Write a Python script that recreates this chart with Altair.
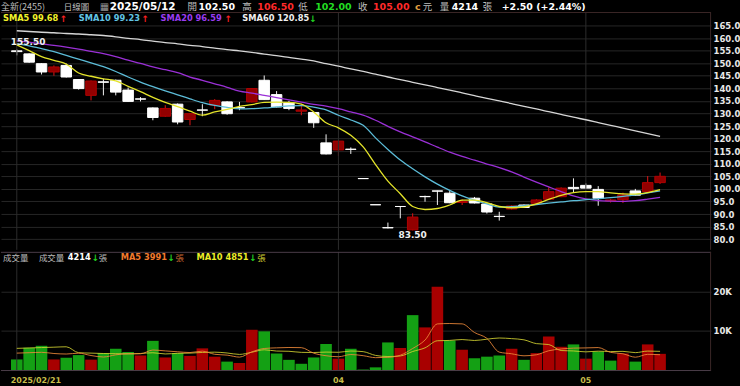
import altair as alt
import pandas as pd

# ---------------- data ----------------
opens = [154.9, 153.7, 149.8, 146.5, 149.1, 143.5, 137.2, 142.6, 143.2, 139.3,
         135.8, 132.2, 128.9, 133.7, 127.6, 131.4, 133.3, 134.6, 132.3, 134.6,
         143.2, 137.5, 134.2, 130.9, 130.4, 118.3, 115.5, 115.8, 104.1, 93.7,
         84.6, 93.0, 83.7, 97.0, 99.2, 98.3, 94.6, 96.3, 94.0, 89.1,
         92.0, 93.6, 94.3, 95.9, 96.9, 100.6, 101.4, 99.8, 95.2, 95.7,
         99.2, 98.9, 102.5]
highs = [155.5, 153.9, 150.0, 149.1, 149.8, 143.7, 143.1, 143.8, 143.5, 140.3,
         136.5, 132.4, 133.3, 134.0, 130.1, 133.7, 135.7, 134.9, 134.6, 140.0,
         145.1, 138.9, 135.0, 133.9, 130.6, 121.7, 119.2, 116.5, 104.1, 93.7,
         86.6, 93.0, 90.3, 97.3, 99.3, 99.5, 95.8, 96.8, 94.2, 90.9,
         93.5, 93.8, 95.9, 100.6, 100.6, 104.2, 102.2, 101.1, 96.0, 98.5,
         100.0, 105.1, 106.5]
lows = [153.1, 150.2, 145.5, 145.0, 144.3, 139.5, 135.2, 137.2, 137.2, 134.6,
        134.8, 127.3, 128.7, 125.7, 125.3, 128.9, 131.7, 129.5, 131.3, 134.4,
        135.4, 132.4, 131.3, 129.3, 124.3, 113.7, 113.1, 113.9, 104.1, 93.7,
        84.3, 88.3, 83.5, 94.9, 93.6, 94.3, 93.6, 94.2, 90.2, 87.4,
        91.8, 92.4, 94.1, 95.7, 96.7, 98.5, 100.1, 93.3, 94.6, 94.4,
        97.3, 98.7, 102.0]
closes = [154.6, 150.4, 146.5, 148.5, 144.5, 139.9, 142.9, 142.4, 138.5, 134.8,
          135.7, 128.4, 132.0, 126.6, 129.9, 131.3, 135.2, 129.9, 132.2, 139.9,
          135.5, 132.6, 132.0, 131.4, 126.3, 113.9, 119.0, 115.7, 104.1, 93.7,
          84.5, 93.0, 88.8, 96.9, 99.1, 94.5, 95.0, 94.4, 90.8, 89.0,
          93.2, 92.6, 95.6, 98.9, 100.3, 100.1, 100.3, 96.3, 95.6, 97.6,
          97.5, 102.5, 105.0]
sma5 = [157.3, 155.0, 152.6, 151.1, 149.6, 146.1, 144.8, 143.8, 143.0, 140.8,
        138.7, 136.4, 134.4, 132.7, 130.9, 129.3, 130.6, 131.6, 132.8, 133.5,
        134.4, 134.5, 134.4, 133.7, 130.6, 126.3, 124.3, 121.3, 116.7, 109.7,
        103.1, 98.1, 93.0, 91.8, 92.2, 93.6, 95.5, 95.5, 94.5, 93.0,
        92.5, 92.8, 94.0, 95.8, 97.4, 98.5, 98.9, 98.9, 98.4, 98.0,
        97.9, 98.5, 99.68]
sma10 = [157.7, 156.9, 155.8, 154.6, 153.1, 151.6, 150.1, 148.6, 146.7, 144.5,
         142.5, 140.7, 139.0, 137.4, 135.8, 134.3, 133.2, 132.4, 131.8, 131.9,
         132.2, 132.6, 133.0, 133.1, 132.5, 131.4, 129.3, 127.4, 125.3, 120.3,
         115.7, 111.5, 108.0, 104.8, 101.9, 99.4, 97.2, 95.5, 94.0, 92.8,
         92.9, 93.3, 93.8, 94.3, 94.8, 95.3, 95.7, 96.1, 96.5, 97.0,
         97.6, 98.4, 99.23]
sma20 = [158.9, 158.4, 157.7, 157.1, 156.4, 155.6, 154.7, 153.8, 152.6, 151.2,
         149.9, 148.5, 147.4, 146.2, 144.5, 143.2, 141.8, 140.4, 138.9, 138.1,
         137.2, 136.3, 135.4, 134.5, 133.6, 132.9, 131.9, 130.6, 129.3, 127.3,
         124.9, 122.7, 120.7, 118.7, 116.6, 114.6, 112.9, 111.4, 109.9, 108.5,
         106.8, 104.7, 102.7, 100.8, 98.9, 97.2, 96.0, 95.3, 95.1, 95.0,
         95.3, 95.9, 96.59]
sma60 = [162.9, 162.6, 162.3, 162.1, 161.8, 161.6, 161.3, 161.0, 160.5, 159.9,
         159.4, 158.8, 158.2, 157.7, 157.1, 156.6, 156.0, 155.4, 154.9, 154.3,
         153.6, 153.0, 152.3, 151.6, 150.9, 149.8, 148.8, 147.7, 146.7, 145.6,
         144.5, 143.5, 142.4, 141.4, 140.3, 139.3, 138.2, 137.1, 136.0, 135.0,
         133.9, 132.8, 131.8, 130.7, 129.6, 128.5, 127.5, 126.4, 125.3, 124.2,
         123.1, 122.0, 120.85]
volumes = [2800, 5750, 6250, 2800, 3250, 3900, 2750, 4400, 5500, 4700,
           3800, 7500, 3300, 4400, 3700, 5600, 3500, 2250, 1900, 10300,
           9900, 4300, 2700, 1700, 3300, 6700, 3000, 5500, 250, 800,
           7100, 5700, 14000, 10900, 21200, 7600, 5250, 3100, 3500, 3800,
           5500, 2700, 4400, 8600, 6000, 6600, 3000, 4800, 2500, 4300,
           2250, 6600, 4214]
vol_up = [0, 0, 0, 1, 0, 0, 1, 0, 0, 0,
          1, 0, 1, 0, 1, 1, 1, 0, 1, 1,
          0, 0, 0, 0, 0, 0, 1, 0, 0, 0,
          0, 1, 0, 1, 1, 0, 1, 0, 0, 0,
          1, 0, 1, 1, 1, 0, 1, 0, 0, 1,
          0, 1, 1]
vma5 = [4400, 4500, 4600, 4300, 4170, 4390, 3790, 3420, 3960, 4250,
        4230, 5180, 4960, 4740, 4540, 4900, 4100, 3890, 3390, 4710,
        5570, 5730, 5820, 5780, 4380, 3740, 3480, 4040, 3750, 3250,
        3330, 3870, 5570, 7700, 11780, 11880, 11790, 9610, 8130, 4650,
        4230, 3720, 3980, 5000, 5440, 5660, 5720, 5800, 4580, 4240,
        3370, 4090, 3991]
vma10 = [5600, 5700, 5800, 5900, 6000, 4500, 4400, 4300, 4250, 4210,
         4310, 4490, 4190, 4350, 4400, 4570, 4640, 4430, 4070, 4630,
         5240, 4920, 4860, 4590, 4550, 4660, 4610, 4930, 4770, 3820,
         3540, 3680, 4810, 5730, 7520, 7610, 7830, 7590, 7920, 8220,
         8060, 7760, 6800, 6570, 5050, 4950, 4720, 4890, 4790, 4840,
         4520, 4910, 4851]
date_tick_idx = [0, 26, 46]
date_tick_labels = ["2025/02/21", "04", "05"]
price_ticks = [80, 85, 90, 95, 100, 105, 110, 115, 120, 125, 130, 135,
               140, 145, 150, 155, 160, 165]
vol_ticks = [10000, 20000]

# ---------------- tables ----------------
n = len(closes)
df = pd.DataFrame({
    "i": list(range(n)), "open": opens, "high": highs, "low": lows, "close": closes,
    "sma5": sma5, "sma10": sma10, "sma20": sma20, "sma60": sma60,
    "volume": volumes, "vdir": ["vol_up" if u else "vol_down" for u in vol_up],
    "vma5": vma5, "vma10": vma10,
})
ticks_df = pd.DataFrame({"i": date_tick_idx, "label": date_tick_labels})
hi_i = highs.index(max(highs))
lo_i = lows.index(min(lows))

# ---------------- styling ----------------
NUM = "DejaVu Sans"
CJK = "Noto Sans CJK TC"
GRAY = "#bdbdbd"
W, PH, VH = 712, 250, 119
GRID = "#262626"
BORDER = "#4a3c48"

xscale = alt.Scale(domain=[-0.874, 55.72], nice=False, zero=False)
pscale = alt.Scale(domain=[75.76, 174.92], nice=False, zero=False)
vscale = alt.Scale(domain=[0, 30000], nice=False, zero=False)
X = alt.X("i:Q", scale=xscale, axis=None)

price_axis = alt.Axis(
    orient="right", values=price_ticks, format=".1f", title=None,
    labelColor="#e8e8e8", labelFont=NUM, labelFontWeight="bold", labelFontSize=8.5,
    labelPadding=2, labelAlign="left", ticks=False, domain=False,
    grid=True, gridColor=GRID, gridWidth=1,
)
vol_axis = alt.Axis(
    orient="right", values=vol_ticks, labelExpr="format(datum.value/1000,'d')+'K'",
    title=None, labelColor="#e8e8e8", labelFont=NUM, labelFontWeight="bold",
    labelFontSize=8.5, labelPadding=2, labelAlign="left", ticks=False, domain=False,
    grid=True, gridColor=GRID, gridWidth=1,
)


def txt(s, x, y, color, size=8.3, bold=True, font=NUM, align="left"):
    return alt.Chart(alt.Data(values=[{}])).mark_text(
        text=s, align=align, baseline="middle", color=color, fontSize=size,
        fontWeight="bold" if bold else "normal", font=font,
    ).encode(x=alt.value(x), y=alt.value(y))


def PY(field):
    return alt.Y(f"{field}:Q", scale=pscale, axis=price_axis)


def VY(field):
    return alt.Y(f"{field}:Q", scale=vscale, axis=vol_axis)


# ---------------- price panel ----------------
candles = alt.Chart(df).transform_calculate(
    cdir='datum.close > datum.open ? "c_up" : "c_down"'
)
wick = candles.mark_rule(strokeWidth=1).encode(
    x=X, y=PY("low"), y2="high:Q",
    color=alt.Color("cdir:N", scale=alt.Scale(domain=["c_up", "c_down"], range=["#e01515", "#f2f2f2"]), legend=None),
)
body = candles.mark_bar(size=10.5, strokeWidth=1).encode(
    x=X, y=PY("open"), y2="close:Q",
    fill=alt.Fill("cdir:N", scale=alt.Scale(domain=["c_up", "c_down"], range=["#920000", "#ffffff"]), legend=None),
    stroke=alt.Stroke("cdir:N", scale=alt.Scale(domain=["c_up", "c_down"], range=["#b00000", "#ffffff"]), legend=None),
)


def ma_line(field, color, yfun, width=1.3, opacity=1.0):
    return alt.Chart(df).mark_line(
        color=color, strokeWidth=width, interpolate="monotone", opacity=opacity
    ).encode(x=X, y=yfun(field))


vgrid_p = alt.Chart(ticks_df).mark_rule(color="#2c2c2c", strokeWidth=1).encode(
    x=X, y=alt.value(12), y2=alt.value(PH)
)
top_border = alt.Chart(alt.Data(values=[{}])).mark_rule(color="#3a2626", strokeWidth=1).encode(
    x=alt.value(0), x2=alt.value(W), y=alt.value(12)
)
right_border_p = alt.Chart(alt.Data(values=[{}])).mark_rule(color="#3a2626", strokeWidth=1).encode(
    x=alt.value(W - 0.5), y=alt.value(12), y2=alt.value(PH)
)

ann_hi = alt.Chart(df).transform_filter(f"datum.i == {hi_i}").mark_text(
    align="left", baseline="bottom", dx=-6, dy=-2, color="#f0f0f0",
    font=NUM, fontWeight="bold", fontSize=9,
).encode(x=X, y=PY("high"), text=alt.Text("high:Q", format=".2f"))
ann_lo = alt.Chart(df).transform_filter(f"datum.i == {lo_i}").mark_text(
    align="center", baseline="top", dy=1, color="#f0f0f0",
    font=NUM, fontWeight="bold", fontSize=9,
).encode(x=X, y=PY("low"), text=alt.Text("low:Q", format=".2f"))

header = [
    txt("全新(2455)", 0, 7, GRAY, 9, False, CJK),
    txt("日線圖", 63, 7, GRAY, 8.5, False, CJK),
    txt("▦", 99, 7, "#9a9a9a", 10, False, NUM),
    txt("2025/05/12", 109, 7, "#ffffff", 10.5, True),
    txt("開", 187, 7, GRAY, 9.5, False, CJK),
    txt("102.50", 198, 7, "#ffffff", 9.5, True),
    txt("高", 242, 7, GRAY, 9.5, False, CJK),
    txt("106.50", 257, 7, "#ff2a2a", 9.5, True),
    txt("低", 298, 7, GRAY, 9.5, False, CJK),
    txt("102.00", 315, 7, "#22dd22", 9.5, True),
    txt("收", 358, 7, GRAY, 9.5, False, CJK),
    txt("105.00", 373, 7, "#ff2a2a", 9.5, True),
    txt("c", 415, 7, "#e0a040", 9.5, True),
    txt("元", 423, 7, GRAY, 9.5, False, CJK),
    txt("量", 440, 7, GRAY, 9.5, False, CJK),
    txt("4214", 452, 7, "#ffffff", 9.5, True),
    txt("張", 483, 7, GRAY, 9.5, False, CJK),
    txt("+2.50 (+2.44%)", 502, 7, "#ffffff", 9.5, True),
    txt("SMA5 99.68", 2, 18.5, "#f2f22a", 8.3, True),
    txt("↑", 59, 18.5, "#ff2020", 9, True),
    txt("SMA10 99.23", 78, 18.5, "#62c4e4", 8.3, True),
    txt("↑", 141, 18.5, "#ff2020", 9, True),
    txt("SMA20 96.59", 160, 18.5, "#9a3cf0", 8.3, True),
    txt("↑", 224, 18.5, "#ff2020", 9, True),
    txt("SMA60 120.85", 242, 18.5, "#f0f0f0", 8.3, True),
    txt("↓", 309, 18.5, "#20d020", 9, True),
]

price = alt.layer(
    wick, body, vgrid_p, top_border, right_border_p,
    ma_line("sma60", "#d6d6d6", PY),
    ma_line("sma20", "#9a30d6", PY),
    ma_line("sma10", "#5cbcd8", PY),
    ma_line("sma5", "#e4e42a", PY),
    ann_hi, ann_lo,
    *header,
).properties(width=W, height=PH)

# ---------------- volume panel ----------------
vbars = alt.Chart(df).mark_bar(size=11.6).encode(
    x=X, y=VY("volume"),
    color=alt.Color("vdir:N", scale=alt.Scale(domain=["vol_up", "vol_down"], range=["#a80000", "#14a014"]), legend=None),
)
vgrid_v = alt.Chart(ticks_df).mark_rule(color="#2c2c2c", strokeWidth=1).encode(
    x=X, y=alt.value(0), y2=alt.value(VH)
)
sep_top = alt.Chart(alt.Data(values=[{}])).mark_rule(color=BORDER, strokeWidth=1).encode(
    x=alt.value(0), x2=alt.value(W), y=alt.value(0.5)
)
sep_bottom = alt.Chart(alt.Data(values=[{}])).mark_rule(color=BORDER, strokeWidth=1).encode(
    x=alt.value(0), x2=alt.value(W), y=alt.value(VH)
)
right_border_v = alt.Chart(alt.Data(values=[{}])).mark_rule(color="#3a2626", strokeWidth=1).encode(
    x=alt.value(W - 0.5), y=alt.value(0), y2=alt.value(VH)
)
date_first = alt.Chart(ticks_df).transform_filter("datum.i == 0").mark_text(
    align="left", baseline="middle", dx=-6, color="#c8bf4a", font=NUM,
    fontWeight="bold", fontSize=8,
).encode(x=X, y=alt.value(130), text="label:N")
date_rest = alt.Chart(ticks_df).transform_filter("datum.i > 0").mark_text(
    align="center", baseline="middle", color="#c8bf4a", font=NUM,
    fontWeight="bold", fontSize=8,
).encode(x=X, y=alt.value(130), text="label:N")

vol_header = [
    txt("成交量", 2, 6, GRAY, 8.5, False, CJK),
    txt("成交量", 38, 6, GRAY, 8.5, False, CJK),
    txt("4214", 67, 6, "#ffffff", 8.3, True),
    txt("↓", 91, 6, "#20d020", 9, True),
    txt("張", 98, 6, GRAY, 8.5, False, CJK),
    txt("MA5 3991", 120, 6, "#f07a2c", 8.3, True),
    txt("↓", 167, 6, "#20d020", 9, True),
    txt("張", 175, 6, "#c86a30", 8.5, False, CJK),
    txt("MA10 4851", 196, 6, "#ecec28", 8.3, True),
    txt("↓", 249, 6, "#20d020", 9, True),
    txt("張", 257, 6, "#cccc30", 8.5, False, CJK),
]

volume = alt.layer(
    vbars, vgrid_v, sep_top, sep_bottom, right_border_v,
    ma_line("vma10", "#d2d232", VY, 1.0, 0.85),
    ma_line("vma5", "#f08a3a", VY, 1.0, 0.85),
    date_first, date_rest,
    *vol_header,
).properties(width=W, height=VH)

chart = alt.vconcat(price, volume, spacing=0).resolve_scale(
    color="independent", fill="independent", stroke="independent"
).configure(background="#000000", padding=0).configure_view(stroke=None)

chart.save("out.html", embed_options={"renderer": "svg", "actions": False})
